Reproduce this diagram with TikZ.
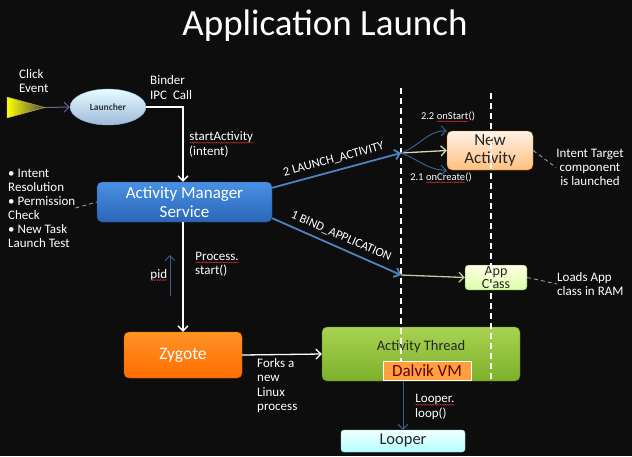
\documentclass[tikz,border=0pt]{standalone}
\usepackage{fontspec}
\setmainfont{Carlito}
\usetikzlibrary{arrows.meta,shapes.geometric,decorations.pathmorphing}
\definecolor{bg}{HTML}{0D0D0D}
\definecolor{linkblue}{HTML}{4F81BD}
\definecolor{stemblue}{HTML}{3A5F8A}
\definecolor{leaf}{HTML}{C9DDA8}
\definecolor{wavered}{HTML}{C83030}
\definecolor{amstop}{HTML}{4A90E2}
\definecolor{amsbot}{HTML}{2A66B8}
\definecolor{greentop}{HTML}{A8D352}
\definecolor{greenbot}{HTML}{7DB02A}
\newcommand{\redwave}[1]{\tikz[baseline=(wv.base)]{\node[inner sep=0pt,outer sep=0pt] (wv) {#1};
  \draw[wavered,line width=0.5pt,decorate,decoration={snake,amplitude=0.5pt,segment length=2.4pt}]
  ([yshift=-1.8pt]wv.base west) -- ([yshift=-1.8pt]wv.base east);}}

\begin{document}
\begin{tikzpicture}[x=1pt,y=-1pt,
  proc/.style={rounded corners=5pt,inner sep=1pt,align=center,
    font=\fontsize{17}{18.5}\selectfont},
  txt/.style={text=white,align=left,inner sep=0pt,font=\fontsize{13}{14.3}\selectfont},
  small/.style={text=white!80,inner sep=0pt,font=\fontsize{10.5}{12}\selectfont},
  flow/.style={-{Straight Barb[length=5pt]},white,line width=1.3pt},
  thinflow/.style={-{Straight Barb[length=5pt]},line width=1pt},
  link/.style={-{Straight Barb[length=5pt]},linkblue,line width=1.8pt},
  note/.style={gray!70,line width=0.8pt,dash pattern=on 4pt off 3pt},
  lifeline/.style={white,line width=1.2pt,dash pattern=on 6pt off 4pt}]
\fill[bg] (0,0) rectangle (632,456);
\node[text=white,font=\fontsize{37}{40}\selectfont] (title) at (325,26) {Application Launch};
% click source and launcher
\shade[left color=yellow,right color=black!70,draw=yellow!70!black] (7,97) -- (45,107.5) -- (7,118) -- cycle;
\coordinate (tip) at (45,107.5);
\node[ellipse,minimum width=76pt,minimum height=36pt,top color=blue!10!cyan!10,bottom color=linkblue!55,
  draw=linkblue!60,font=\fontsize{9.5}{11}\selectfont\bfseries,text=black!80] (launcher) at (108,107) {Launcher};
\node[txt,anchor=west] (click) at (19,81) {Click\\Event};
\node[txt,anchor=west] (binder) at (150,87.5) {Binder\\IPC\ \ Call};
% system nodes
\node[proc,minimum width=175pt,minimum height=40pt,top color=amstop,bottom color=amsbot,
  draw=amsbot!80!black,text=white] (ams) at (184.5,202) {Activity Manager\\Service};
\node[proc,minimum width=118pt,minimum height=46pt,top color=orange!85!white,bottom color=orange!85!red,
  draw=orange!80!black,text=white,font=\fontsize{17.5}{19}\selectfont] (zygote) at (183,355) {Zygote};
\node[proc,minimum width=198pt,minimum height=54pt,top color=greentop,bottom color=greenbot,
  draw=greenbot!70!black,text=black!85,font=\fontsize{14.5}{16}\selectfont,text depth=17pt] (thread) at (421,354) {Activity Thread};
\node[proc,rounded corners=0pt,minimum width=88pt,minimum height=19pt,fill=orange!75!white,draw=white,
  line width=1pt,text=red!40!black,inner sep=0pt] (dalvik) at (427,370.5) {Dalvik VM};
\node[proc,rounded corners=3pt,minimum width=124pt,minimum height=22pt,top color=cyan!5,bottom color=cyan!30,
  draw=cyan!40,text=black!85,font=\fontsize{16.5}{18}\selectfont,inner sep=0pt] (looper) at (403,441) {Looper};
\node[proc,minimum width=86pt,minimum height=39pt,top color=orange!10,bottom color=orange!50,
  draw=orange!80!black,text=black!85,inner sep=0pt] (newact) at (490,150.5) {New\\Activity};
\node[proc,rounded corners=3pt,minimum width=62pt,minimum height=25pt,top color=yellow!10,bottom color=green!40!yellow!35,
  draw=green!40!black,text=black!85,font=\fontsize{14}{13}\selectfont,inner sep=0pt] (appcls) at (496,277.5) {App\\Class};
% lifelines
\draw[lifeline] (401,88) -- (401,361);
\draw[lifeline] (491,93) -- (491,383);
\coordinate (la) at (401,153);
\coordinate (lb) at (401,275);
% side texts
\node[txt,anchor=west,font=\fontsize{13}{14}\selectfont] (bullets) at (8,208) {• Intent\\Resolution\\• Permission\\Check\\• New Task\\Launch Test};
\node[txt,anchor=west] (startact) at (189,144.5) {\redwave{startActivity}\\(intent)};
\node[txt,anchor=west] (process) at (195,264.5) {\redwave{Process.}\\start()};
\node[txt,anchor=west] (pid) at (150,275) {\redwave{pid}};
\node[txt,anchor=west] (forks) at (257,385.5) {Forks a\\new\\Linux\\process};
\node[txt,anchor=west] (loop) at (415,407) {\redwave{Looper.}\\loop()};
\node[txt,align=center] (target) at (590,167.5) {Intent Target\\component\\is launched};
\node[txt,anchor=west] (loads) at (557,284) {Loads App\\class in RAM};
\node[small] (onstart) at (448,117) {2.2 \redwave{onStart}()};
\node[small] (oncreate) at (441,178) {2.1 \redwave{onCreate}()};
% connectors
\draw[thinflow,gray!80!blue] (tip) -- (launcher.west);
\draw[flow] (launcher.east) -| (ams.north -| 183,0);
\draw[flow] (ams.south -| 183,0) -- (zygote.north);
\coordinate (pidlo) at (170,296);
\coordinate (pidhi) at (170,255);
\draw[thinflow,stemblue] (pidlo) -- (pidhi);
\draw[flow] (zygote.east) -- (thread.west);
\draw[thinflow,stemblue] (looper.north |- thread.south) -- (looper.north);
\draw[link] (ams.north east) ++(0,6) coordinate (amsa) -- (la)
  node[midway,above=2pt,sloped,text=white,font=\fontsize{12.5}{14}\selectfont] {2 LAUNCH\_ACTIVITY};
\draw[link] (ams.south east) ++(0,-4) coordinate (amsb) -- (lb)
  node[midway,above=2pt,sloped,text=white,font=\fontsize{12.5}{14}\selectfont] {1 BIND\_APPLICATION};
\draw[thinflow,leaf,line width=1.3pt] (la) -- (newact.west);
\draw[thinflow,stemblue] (la) to[out=20,in=180] (newact.north west);
\draw[thinflow,stemblue] (la) to[out=-20,in=180] (newact.south west);
\draw[thinflow,leaf!80!gray,line width=1.3pt] (lb) -- (appcls.west);
\draw[note] (bullets.east) -- (ams.west);
\draw[note] (newact.east) -- (target.west);
\draw[note] (appcls.east) -- (loads.west);
\end{tikzpicture}
\end{document}
